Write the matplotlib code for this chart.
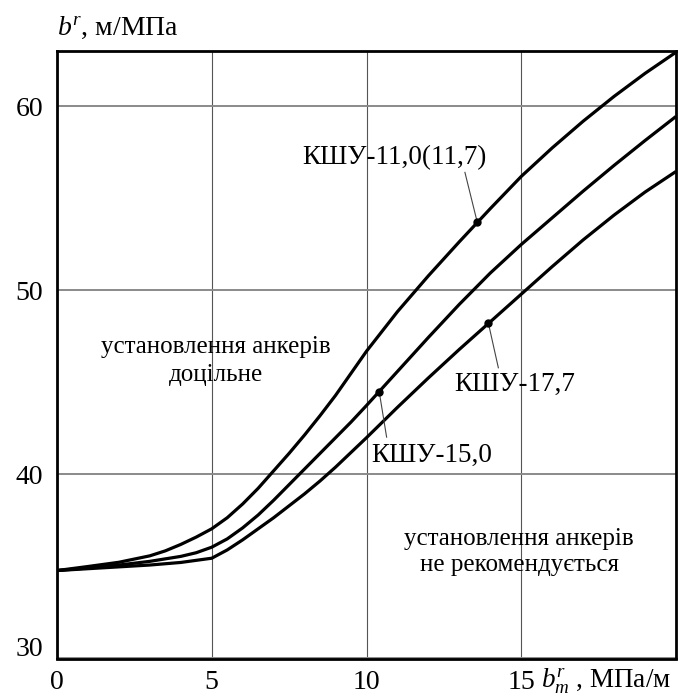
import matplotlib
matplotlib.use("Agg")
import matplotlib.pyplot as plt
from matplotlib.transforms import ScaledTranslation

plt.rcParams['font.family'] = ['Liberation Serif', 'DejaVu Serif']
plt.rcParams['mathtext.fontset'] = 'custom'
plt.rcParams['mathtext.rm'] = 'Liberation Serif'
plt.rcParams['mathtext.it'] = 'Liberation Serif:italic'

# ---------------- data ----------------
x_top = [0, 1, 2, 3, 3.5, 4, 4.5, 5, 5.5, 6, 6.5, 7, 7.5, 8, 8.5, 9, 9.5, 10,
         11, 12, 13, 14, 15, 16, 17, 18, 19, 20]
y_top = [34.78, 35.0, 35.23, 35.58, 35.85, 36.2, 36.6, 37.05, 37.65, 38.4, 39.25, 40.2,
         41.15, 42.15, 43.2, 44.3, 45.5, 46.7,
         48.85, 50.8, 52.65, 54.45, 56.2, 57.75, 59.2, 60.55, 61.8, 62.95]

x_mid = [0, 1, 2, 3, 4, 4.5, 5, 5.5, 6, 6.5, 7, 7.5, 8, 8.5, 9, 9.5, 10,
         11, 12, 13, 14, 15, 16, 17, 18, 19, 20]
y_mid = [34.78, 34.92, 35.08, 35.28, 35.55, 35.75, 36.05, 36.5, 37.1, 37.8, 38.6, 39.45,
         40.3, 41.15, 42.0, 42.85, 43.75,
         45.6, 47.45, 49.25, 50.95, 52.5, 53.95, 55.4, 56.8, 58.15, 59.46]

x_bot = [0, 1, 2, 3, 4, 5, 5.5, 6, 6.5, 7, 7.5, 8, 8.5, 9, 9.5, 10,
         11, 12, 13, 14, 15, 16, 17, 18, 19, 20]
y_bot = [34.78, 34.88, 34.98, 35.08, 35.22, 35.45, 35.9, 36.45, 37.05, 37.65, 38.3, 38.95,
         39.65, 40.4, 41.2, 42.0,
         43.65, 45.25, 46.8, 48.3, 49.8, 51.3, 52.75, 54.1, 55.35, 56.47]

curve_labels = ['КШУ-11,0(11,7)', 'КШУ-15,0', 'КШУ-17,7']
marker_x = [13.58, 10.41, 13.94]
marker_y = [53.7, 44.51, 48.21]

x_ticks = [0, 5, 10, 15]
x_tick_labels = ['0', '5', '10', '15']
y_ticks = [30, 40, 50, 60]
y_tick_labels = ['30', '40', '50', '60']

region_above = ['установлення анкерів', 'доцільне']
region_below = ['установлення анкерів', 'не рекомендується']

# ---------------- figure ----------------
fig = plt.figure(figsize=(6.96, 6.95), dpi=100)
ax = fig.add_axes([57 / 696, 1 - 658.5 / 695, (676 - 57) / 696, (658.5 - 51.3) / 695])
ax.set_xlim(0, 20)
ax.set_ylim(30, 63.0)

for xs, ys in [(x_top, y_top), (x_mid, y_mid), (x_bot, y_bot)]:
    ax.plot(xs, ys, color='black', lw=2.3, solid_capstyle='butt',
            solid_joinstyle='round', zorder=3)

ax.set_xticks(x_ticks)
ax.set_xticklabels(x_tick_labels)
ax.set_yticks(y_ticks)
ax.set_yticklabels(y_tick_labels)
ax.tick_params(length=0, labelsize=20)
ax.tick_params(axis='x', pad=8)
ax.tick_params(axis='y', pad=10)
ax.set_axisbelow(True)
ax.xaxis.grid(True, color='#555555', lw=0.8)
ax.yaxis.grid(True, color='#8a8a8a', lw=1.4)
for sp in ax.spines.values():
    sp.set_linewidth(2.0)
    sp.set_color('black')
    sp.set_zorder(5)

# shift the "30" label upwards as in the reference
lab30 = ax.get_yticklabels()[0]
lab30.set_transform(lab30.get_transform() + ScaledTranslation(0, 12 / 100, fig.dpi_scale_trans))

# markers and leader lines
ax.plot(marker_x, marker_y, 'o', color='black', ms=5, zorder=4)
leader_starts = [(13.18, 56.42), (10.65, 42.03), (14.26, 45.8)]
for (sx, sy), mx, my in zip(leader_starts, marker_x, marker_y):
    ax.plot([sx, mx], [sy, my], color='#444444', lw=0.8, zorder=3)

label_pos = [(10.89, 56.85), (12.11, 40.69), (14.80, 44.55)]
for txt, (lx, ly) in zip(curve_labels, label_pos):
    ax.text(lx, ly, txt, ha='center', va='baseline', fontsize=19.5, zorder=6)

ax.text(5.14, 46.62, region_above[0], ha='center', va='baseline', fontsize=18)
ax.text(5.14, 45.10, region_above[1], ha='center', va='baseline', fontsize=18)
ax.text(14.93, 36.18, region_below[0], ha='center', va='baseline', fontsize=18)
ax.text(14.93, 34.73, region_below[1], ha='center', va='baseline', fontsize=18)

# axis titles
fig.text(57 / 696, 1 - 35 / 695, r'$b^r$, м/МПа', ha='left', va='baseline', fontsize=20)
fig.text(541 / 696, 1 - 687 / 695, r'$b^r_m$ , МПа/м', ha='left', va='baseline', fontsize=19.5)

fig.savefig('out.png', dpi=100)
